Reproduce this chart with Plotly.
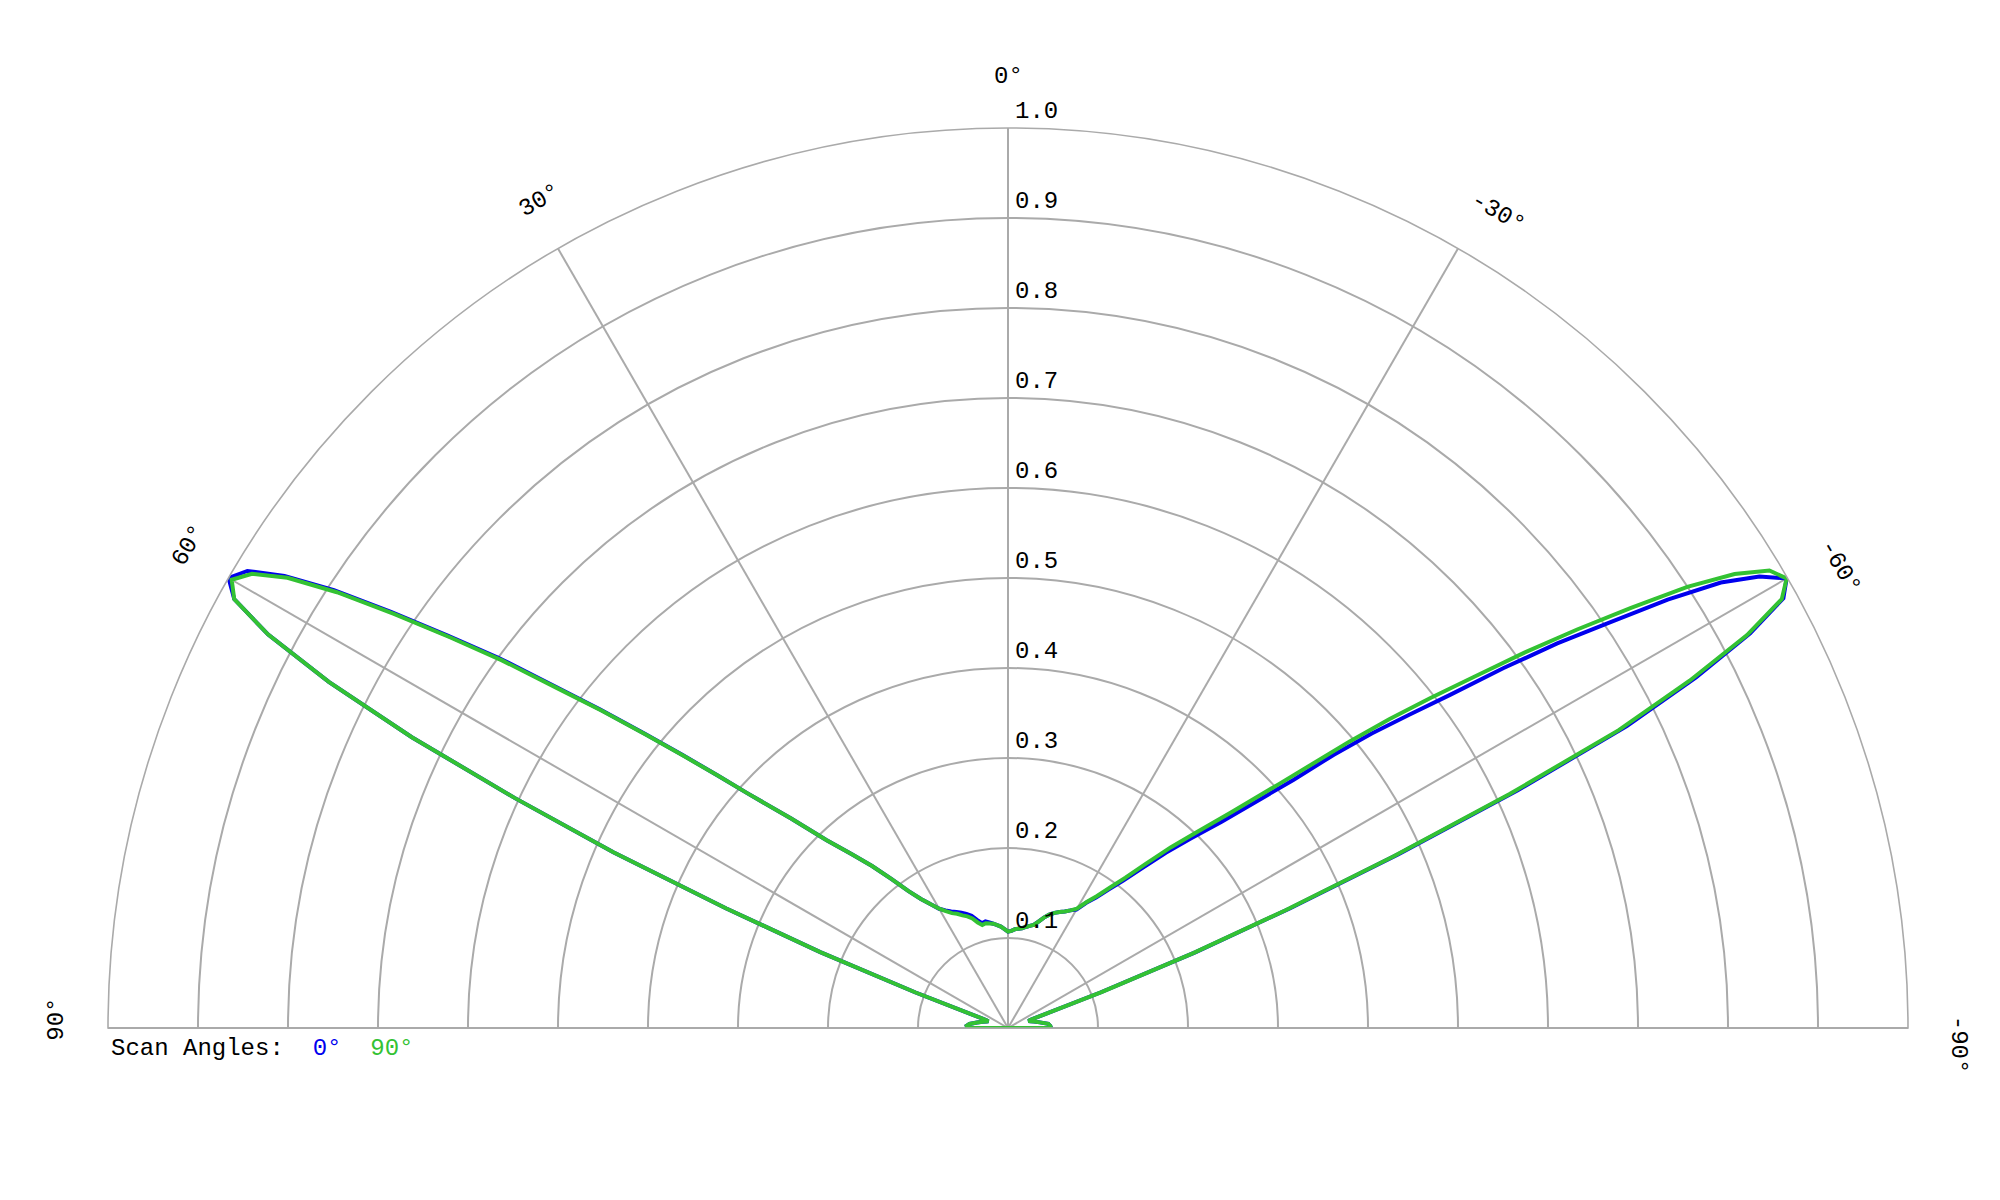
import math
import plotly.graph_objects as go

# ---------------- data ----------------
theta_deg = [-90, -87, -84, -80, -76, -73, -71, -70, -69, -68, -67, -66, -65, -64, -63, -62, -61,
             -60, -59, -58, -57, -56, -55, -54, -53, -52, -51, -50, -49, -48, -46, -44, -42, -40,
             -38, -36, -34, -32, -30, -28, -26, -24, -22, -20, -18, -16, -14, -12, -10, -8, -6,
             -4, -2, 0, 2, 4, 6, 8, 10, 12, 14, 16, 18, 20, 22, 24, 26, 28, 30, 32, 34, 36, 38,
             40, 42, 44, 46, 48, 49, 50, 51, 52, 53, 54, 55, 56, 57, 58, 59, 60, 61, 62, 63, 64,
             65, 66, 67, 68, 69, 70, 71, 73, 76, 80, 84, 87, 90]

r_scan0 = [0.048, 0.047, 0.045, 0.036, 0.030, 0.026, 0.024, 0.026, 0.110, 0.225, 0.340, 0.475,
           0.625, 0.765, 0.858, 0.934, 0.985,
           0.999, 0.974, 0.934, 0.874, 0.805, 0.745, 0.680, 0.615, 0.565, 0.520, 0.472, 0.420,
           0.385, 0.330, 0.293, 0.262, 0.232,
           0.208, 0.190, 0.175, 0.164, 0.152, 0.148, 0.144, 0.141, 0.138, 0.134, 0.129, 0.123,
           0.118, 0.116, 0.114, 0.112, 0.111,
           0.110, 0.108, 0.107, 0.110, 0.113, 0.115, 0.117, 0.119, 0.121, 0.120, 0.125, 0.131,
           0.135, 0.138, 0.141, 0.144, 0.148, 0.153, 0.162, 0.173, 0.188, 0.210,
           0.235, 0.260, 0.290, 0.335, 0.390, 0.428, 0.472, 0.520, 0.575, 0.632, 0.700, 0.760,
           0.827, 0.893, 0.948, 0.986, 1.000, 0.983, 0.931, 0.847, 0.737,
           0.605, 0.480, 0.340, 0.225, 0.110, 0.026, 0.023, 0.025, 0.029, 0.035, 0.043, 0.046,
           0.045]

r_scan90 = [0.048, 0.047, 0.045, 0.036, 0.030, 0.026, 0.024, 0.026, 0.112, 0.222, 0.335, 0.468,
            0.615, 0.755, 0.850, 0.930, 0.983,
            0.999, 0.987, 0.952, 0.900, 0.835, 0.772, 0.710, 0.648, 0.595, 0.545, 0.495, 0.445,
            0.405, 0.345, 0.303, 0.270, 0.238,
            0.212, 0.193, 0.177, 0.165, 0.153, 0.148, 0.144, 0.141, 0.138, 0.134, 0.129, 0.123,
            0.118, 0.116, 0.114, 0.112, 0.111,
            0.110, 0.108, 0.107, 0.110, 0.113, 0.115, 0.117, 0.118, 0.119, 0.118, 0.122, 0.128,
            0.132, 0.135, 0.139, 0.142, 0.147, 0.153, 0.162, 0.173, 0.188, 0.210,
            0.235, 0.260, 0.290, 0.335, 0.390, 0.428, 0.470, 0.518, 0.572, 0.628, 0.695, 0.757,
            0.823, 0.889, 0.944, 0.980, 0.996, 0.983, 0.931, 0.847, 0.737,
            0.605, 0.480, 0.340, 0.225, 0.110, 0.026, 0.023, 0.025, 0.029, 0.035, 0.043, 0.046,
            0.045]

series_names = ["0°", "90°"]
series_colors = ["#0000ee", "#33c233"]

radial_ticks = [0.1, 0.2, 0.3, 0.4, 0.5, 0.6, 0.7, 0.8, 0.9, 1.0]
radial_tick_labels = ["0.1", "0.2", "0.3", "0.4", "0.5", "0.6", "0.7", "0.8", "0.9", "1.0"]
angular_ticks = [-90, -60, -30, 0, 30, 60, 90]
angular_tick_labels = ["-90°", "-60°", "-30°", "0°", "30°", "60°", "90°"]

# ---------------- geometry ----------------
W, H = 2000, 1200
dom_x = [0.05, 0.95]
dom_y = [0.15, 0.90]
cx = (dom_x[0] + dom_x[1]) / 2.0
cy = dom_y[0]
R_px = (dom_x[1] - dom_x[0]) * W / 2.0
FONT = "Liberation Mono, Courier New, monospace"
FSIZE = 24
GRID = "#aaaaaa"

fig = go.Figure()
for rv, name, col in zip([r_scan0, r_scan90], series_names, series_colors):
    fig.add_trace(go.Scatterpolar(
        r=rv + [rv[0]], theta=theta_deg + [theta_deg[0]],
        mode="lines", name=name, line=dict(color=col, width=4),
        cliponaxis=False, showlegend=False, hoverinfo="skip"))

annotations = []
# angular tick labels (rotated tangentially, slightly clockwise of the grid line)
lab_r = 951.0 / R_px
for t, lab in zip(angular_ticks, angular_tick_labels):
    off = 0.0 if t == 0 else (-0.5 if t > 0 else -1.0)
    a = math.radians(t + off)
    x = cx + (-math.sin(a)) * lab_r * R_px / W
    y = cy + math.cos(a) * lab_r * R_px / H
    annotations.append(dict(x=x, y=y, xref="paper", yref="paper", text=lab, showarrow=False,
                            xanchor="center", yanchor="middle", textangle=-t,
                            font=dict(family=FONT, size=FSIZE, color="black")))
# radial tick labels, just above each ring on the right of the vertical axis
for rv, lab in zip(radial_ticks, radial_tick_labels):
    annotations.append(dict(x=cx + 5.0 / W, y=cy + rv * R_px / H + 1.0 / H,
                            xref="paper", yref="paper", text=lab, showarrow=False,
                            xanchor="left", yanchor="bottom",
                            font=dict(family=FONT, size=FSIZE, color="black")))
# legend line
nb = "\u00a0"
leg_text = ("Scan Angles:" + nb * 2 +
            "<span style='color:%s'>%s</span>" % (series_colors[0], series_names[0]) + nb * 2 +
            "<span style='color:%s'>%s</span>" % (series_colors[1], series_names[1]))
annotations.append(dict(x=0.0505, y=(H - 1040.0) / H, xref="paper", yref="paper", text=leg_text,
                        showarrow=False, xanchor="left", yanchor="middle",
                        font=dict(family=FONT, size=FSIZE, color="black")))

fig.update_layout(
    width=W, height=H, margin=dict(l=0, r=0, t=0, b=0),
    paper_bgcolor="white", plot_bgcolor="white", showlegend=False,
    polar=dict(
        domain=dict(x=dom_x, y=dom_y), sector=[0, 180], bgcolor="white",
        angularaxis=dict(rotation=90, direction="counterclockwise", tickmode="array",
                         tickvals=angular_ticks, showticklabels=False, ticks="",
                         showgrid=True, gridcolor=GRID, gridwidth=1.6,
                         showline=True, linecolor=GRID, linewidth=1.6),
        radialaxis=dict(range=[0, 1], tickmode="array", tickvals=radial_ticks,
                        showticklabels=False, ticks="", showline=False, angle=90,
                        showgrid=True, gridcolor=GRID, gridwidth=1.6),
    ),
    annotations=annotations,
)

fig.write_html("out.html")
